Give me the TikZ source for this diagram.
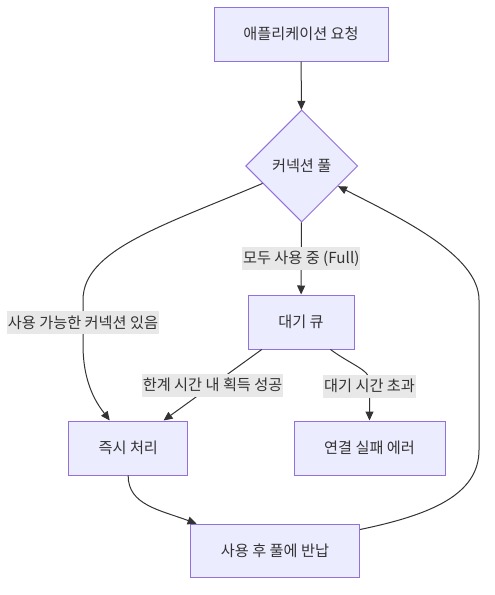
\documentclass[tikz,border=0pt]{standalone}
\usepackage{fontspec}
\setmainfont{Noto Sans CJK KR}
\usetikzlibrary{shapes.geometric,arrows.meta}
\definecolor{boxfill}{HTML}{ECECFF}
\definecolor{boxline}{HTML}{9370DB}
\definecolor{ink}{HTML}{333333}
\definecolor{tagfill}{HTML}{E8E8E8}

\begin{document}
\begin{tikzpicture}[x=1pt,y=-1pt,font=\fontsize{15.2}{18}\selectfont,text=ink,
  box/.style={rectangle,draw=boxline,fill=boxfill,line width=1pt,minimum height=54pt,inner sep=0pt},
  choice/.style={diamond,draw=boxline,fill=boxfill,line width=1pt,minimum width=112pt,minimum height=112pt,inner sep=0pt,shape aspect=1},
  tag/.style={fill=tagfill,inner xsep=1pt,inner ysep=0pt,minimum height=23pt},
  link/.style={draw=ink,line width=1pt,-{Triangle[length=9pt,width=8pt]}}]
  \useasboundingbox (0,0) rectangle (495,595);
  \node[box,minimum width=174pt] (app) at (301,34) {애플리케이션 요청};
  \node[choice] (pool) at (301.7,166) {커넥션 풀};
  \node[box,minimum width=106pt] (queue) at (301,322) {대기 큐};
  \node[box,minimum width=119pt] (now) at (128.3,448) {즉시 처리};
  \node[box,minimum width=151pt] (fail) at (369.5,448) {연결 실패 에러};
  \node[box,minimum width=169pt,minimum height=53pt] (back) at (275,550.7) {사용 후 풀에 반납};

  \draw[link] (app) -- (pool);
  \draw[link] (pool.204) .. controls (162,226) and (83,250) .. (83,300)
    -- node[tag] {사용 가능한 커넥션 있음} (83,345)
    .. controls (83,385) and (98,405) .. (now.124);
  \draw[link] (pool) -- node[tag] {모두 사용 중 (Full)} (queue);
  \draw[link] (queue.215) -- node[tag] {한계 시간 내 획득 성공} (now.38);
  \draw[link] (queue.317) .. controls (350,364) and (369.5,370) .. (369.5,380)
    -- node[tag] {대기 시간 초과} (369.5,392) -- (fail);
  \draw[link] (now) .. controls (128,505) and (160,510) .. (back.161);
  \draw[link] (back.14) .. controls (430,515) and (479,495) .. (479,450)
    -- (479,300) .. controls (479,255) and (400,218) .. (pool.331);
\end{tikzpicture}
\end{document}
